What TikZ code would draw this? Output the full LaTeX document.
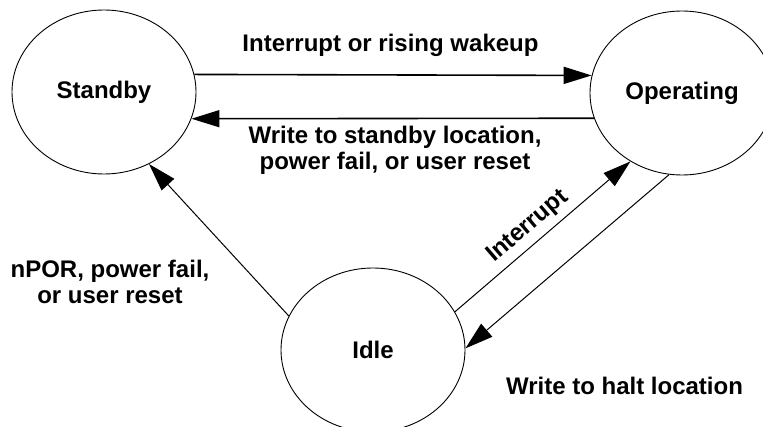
\documentclass[tikz,border=0pt]{standalone}
\usepackage{fontspec}
\setmainfont{Liberation Sans}
\usetikzlibrary{arrows.meta,shapes.geometric}
\begin{document}
\begin{tikzpicture}[x=1pt,y=-1pt,
  txt/.style={font=\fontsize{24}{26}\selectfont\bfseries},
  state/.style={txt, ellipse, draw, line width=0.9pt, minimum width=184pt, minimum height=164pt, inner sep=0pt},
  lbl/.style={txt, align=center, inner sep=0pt},
  tip/.style={-{Triangle[length=28pt,width=17pt]}},
  harr/.style={tip, line width=1.6pt},
  darr/.style={tip, line width=1pt}]
\useasboundingbox (0,0) rectangle (763,427);
\clip (0,0) rectangle (763,427);

\node[state] (S) at (104,92) {Standby};
\node[state] (O) at (682,93) {Operating};
\node[state] (I) at (373,350) {Idle};

\draw[harr] (S.11) -- (O.169);
\draw[harr] (O.196) -- (S.-17);
\draw[darr] (I.158) -- (S.-58.5);
\draw[darr] (I.25) -- node[lbl, sloped, above=6pt, pos=0.48] (lint) {Interrupt} (O.233.4);
\draw[darr] (O.261.5) -- (I.1);

\node[lbl, anchor=base] (l1) at (390.5,52) {Interrupt or rising wakeup};
\node[lbl] (l2) at (395,150) {Write to standby location,\\power fail, or user reset};
\node[lbl] (l3) at (110,282) {nPOR, power fail,\\or user reset};
\node[lbl, anchor=base] (l4) at (624.5,395) {Write to halt location};
\end{tikzpicture}
\end{document}
